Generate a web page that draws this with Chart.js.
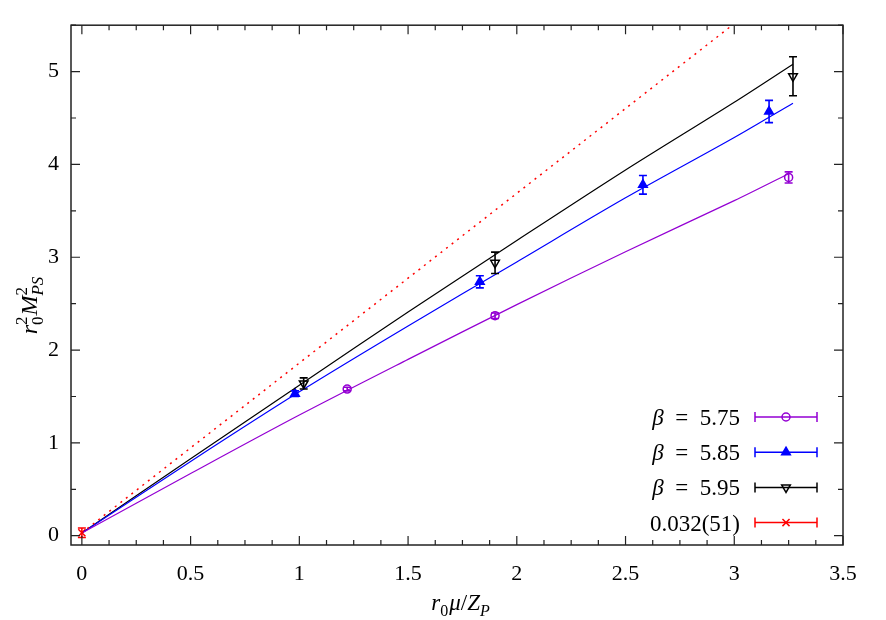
<!DOCTYPE html>
<html>
<head>
<meta charset="utf-8">
<script src="https://cdn.jsdelivr.net/npm/chart.js@4/dist/chart.umd.min.js"></script>
<style>
  html, body { margin: 0; padding: 0; background: #fff; }
  #wrap { width: 886px; height: 620px; }
</style>
</head>
<body>
<div id="wrap"><canvas id="myChart" width="886" height="620"></canvas></div>
<script>
// axis ticks
const xTicks = [0, 0.5, 1, 1.5, 2, 2.5, 3, 3.5];
const yTicks = [0, 1, 2, 3, 4, 5];

// beta = 5.75 data
const x575 = [1.22, 1.90, 3.25];
const y575 = [1.58, 2.37, 3.86];
const e575 = [0.02, 0.03, 0.06];

// beta = 5.85 data
const x585 = [0.98, 1.83, 2.58, 3.16];
const y585 = [1.53, 2.735, 3.78, 4.57];
const e585 = [0.03, 0.065, 0.10, 0.12];

// beta = 5.95 data
const x595 = [1.02, 1.90, 3.27];
const y595 = [1.64, 2.94, 4.95];
const e595 = [0.06, 0.115, 0.21];

// chiral limit point
const xChiral = [0];
const yChiral = [0.032];
const eChiral = [0.051];

// fit curves
const fitX575 = [0, 0.5, 1, 1.5, 2, 2.5, 3, 3.25];
const fitY575 = [0.03, 0.67, 1.30, 1.90, 2.49, 3.06, 3.61, 3.90];
const fitX585 = [0, 0.5, 1, 1.5, 2, 2.5, 3, 3.27];
const fitY585 = [0.03, 0.80, 1.55, 2.26, 2.95, 3.64, 4.29, 4.66];
const fitX595 = [0, 0.5, 1, 1.5, 2, 2.5, 3, 3.27];
const fitY595 = [0.03, 0.83, 1.62, 2.41, 3.18, 3.94, 4.67, 5.08];
const dotX = [0, 3.1];
const dotY = [0.032, 5.70];

const legendLabels = ["5.75", "5.85", "5.95", "0.032(51)"];

const PURPLE = "#9400d3", BLUE = "#0000ff", BLACK = "#000000", RED = "#ff0000";
const SERIF = "'Liberation Serif', 'DejaVu Serif', serif";

const pts = (xs, ys) => xs.map((x, i) => ({ x: x, y: ys[i] }));

const fitLine = (xs, ys, color, dash) => ({
  data: pts(xs, ys),
  showLine: true,
  borderColor: color,
  borderWidth: dash ? 1.5 : 1.2,
  borderDash: dash || [],
  pointRadius: 0,
  fill: false,
  tension: 0.3,
});

const markers = (xs, ys, es, color, style, extra) => Object.assign({
  data: pts(xs, ys),
  errors: es,
  showLine: false,
  pointStyle: style,
  pointRadius: 4,
  borderColor: color,
  backgroundColor: "rgba(0,0,0,0)",
  pointBorderWidth: 1.5,
}, extra || {});

// draw text with italic pieces and stacked sub/superscripts
const drawRich = (ctx, parts, x, y, align, size) => {
  const small = Math.round(size * 0.7);
  const fnt = (it, s) => (it ? "italic " : "") + s + "px " + SERIF;
  let width = 0;
  const widths = parts.map(p => {
    let w;
    if (p.t !== undefined) { ctx.font = fnt(p.it, size); w = ctx.measureText(p.t).width; }
    else {
      ctx.font = fnt(p.subIt, small); const a = p.sub ? ctx.measureText(p.sub).width : 0;
      ctx.font = fnt(false, small); const b = p.sup ? ctx.measureText(p.sup).width : 0;
      w = Math.max(a, b) + 1;
    }
    width += w;
    return w;
  });
  let cx = align === "right" ? x - width : align === "center" ? x - width / 2 : x;
  ctx.textAlign = "left";
  ctx.textBaseline = "alphabetic";
  parts.forEach((p, i) => {
    if (p.t !== undefined) { ctx.font = fnt(p.it, size); ctx.fillText(p.t, cx, y); }
    else {
      if (p.sub) { ctx.font = fnt(p.subIt, small); ctx.fillText(p.sub, cx, y + size * 0.25); }
      if (p.sup) { ctx.font = fnt(false, small); ctx.fillText(p.sup, cx, y - size * 0.42); }
    }
    cx += widths[i];
  });
};

const framePlugin = {
  id: "frame",
  afterDraw(chart) {
    const { ctx, chartArea: a } = chart;
    const xs = chart.scales.x, ys = chart.scales.y;
    ctx.save();
    ctx.strokeStyle = "#222";
    ctx.lineWidth = 1.5;
    ctx.strokeRect(a.left, a.top, a.right - a.left, a.bottom - a.top);
    ctx.lineWidth = 1.2;
    ctx.beginPath();
    const xt = (v, len) => {
      const p = xs.getPixelForValue(v);
      if (p < a.left - 0.5 || p > a.right + 0.5) return;
      ctx.moveTo(p, a.bottom); ctx.lineTo(p, a.bottom - len);
      ctx.moveTo(p, a.top); ctx.lineTo(p, a.top + len);
    };
    const yt = (v, len) => {
      const p = ys.getPixelForValue(v);
      if (p < a.top - 0.5 || p > a.bottom + 0.5) return;
      ctx.moveTo(a.left, p); ctx.lineTo(a.left + len, p);
      ctx.moveTo(a.right, p); ctx.lineTo(a.right - len, p);
    };
    xTicks.forEach((v, i) => {
      xt(v, 9);
      if (i < xTicks.length - 1) {
        const step = (xTicks[i + 1] - v) / 4;
        for (let k = 1; k < 4; k++) xt(v + k * step, 5);
      }
    });
    yTicks.forEach((v, i) => {
      yt(v, 9);
      const next = i < yTicks.length - 1 ? yTicks[i + 1] : v + 1;
      yt((v + next) / 2, 5);
    });
    ctx.stroke();

    // axis titles
    ctx.fillStyle = "#000";
    drawRich(ctx, [
      { t: "r", it: true }, { sub: "0" }, { t: "μ", it: true }, { t: "/" },
      { t: "Z", it: true }, { sub: "P", subIt: true }
    ], 461, 610, "center", 23);
    ctx.save();
    ctx.translate(37, 305);
    ctx.rotate(-Math.PI / 2);
    drawRich(ctx, [
      { t: "r", it: true }, { sub: "0", sup: "2" }, { t: "M", it: true }, { sub: "PS", sup: "2", subIt: true }
    ], 0, 0, "center", 24);
    ctx.restore();

    // key
    const entries = chart.data.datasets.filter(d => d.errors);
    entries.forEach((d, i) => {
      const y = 417 + i * 35.2;
      ctx.fillStyle = "#000";
      const label = legendLabels[i];
      const parts = label.indexOf("(") >= 0 ? [{ t: label }] : [{ t: "β", it: true }, { t: "\u2002=\u2002" + label }];
      drawRich(ctx, parts, 740, y + 8, "right", 23);
      ctx.strokeStyle = d.borderColor;
      ctx.lineWidth = 1.5;
      ctx.beginPath();
      ctx.moveTo(755, y); ctx.lineTo(817, y);
      ctx.moveTo(755, y - 5); ctx.lineTo(755, y + 5);
      ctx.moveTo(817, y - 5); ctx.lineTo(817, y + 5);
      ctx.stroke();
      ctx.fillStyle = d.backgroundColor;
      Chart.helpers.drawPoint(ctx, {
        pointStyle: d.pointStyle, radius: d.pointRadius,
        rotation: d.pointRotation || 0, borderWidth: d.pointBorderWidth
      }, 786, y);
    });
    ctx.restore();
  }
};

const errorBarPlugin = {
  id: "errorBars",
  afterDatasetsDraw(chart) {
    const { ctx } = chart;
    const xs = chart.scales.x, ys = chart.scales.y;
    ctx.save();
    chart.data.datasets.forEach(d => {
      if (!d.errors) return;
      ctx.strokeStyle = d.borderColor;
      ctx.lineWidth = 1.6;
      ctx.beginPath();
      d.data.forEach((p, i) => {
        const px = xs.getPixelForValue(p.x);
        const top = ys.getPixelForValue(p.y + d.errors[i]);
        const bot = ys.getPixelForValue(p.y - d.errors[i]);
        ctx.moveTo(px, top); ctx.lineTo(px, bot);
        ctx.moveTo(px - 4, top); ctx.lineTo(px + 4, top);
        ctx.moveTo(px - 4, bot); ctx.lineTo(px + 4, bot);
      });
      ctx.stroke();
    });
    ctx.restore();
  }
};

new Chart(document.getElementById("myChart"), {
  type: "scatter",
  data: {
    datasets: [
      fitLine(dotX, dotY, RED, [2, 5]),
      fitLine(fitX575, fitY575, PURPLE),
      fitLine(fitX585, fitY585, BLUE),
      fitLine(fitX595, fitY595, BLACK),
      markers(x575, y575, e575, PURPLE, "circle"),
      markers(x585, y585, e585, BLUE, "triangle", { backgroundColor: BLUE, pointRadius: 5 }),
      markers(x595, y595, e595, BLACK, "triangle", { pointRotation: 180, pointRadius: 5 }),
      markers(xChiral, yChiral, eChiral, RED, "crossRot", { pointRadius: 5 }),
    ]
  },
  options: {
    responsive: false,
    animation: false,
    layout: { padding: { top: 22, right: 43, left: 0, bottom: 0 } },
    plugins: { legend: { display: false }, tooltip: { enabled: false } },
    scales: {
      x: {
        type: "linear", min: -0.05, max: 3.5,
        grid: { display: false, drawTicks: false },
        border: { display: false },
        afterBuildTicks: s => { s.ticks = xTicks.map(v => ({ value: v })); },
        afterFit: s => { s.height = 75; },
        ticks: { padding: 16, color: "#000", font: { family: SERIF, size: 22 }, maxRotation: 0,
                 callback: v => String(v) }
      },
      y: {
        type: "linear", min: -0.1, max: 5.5,
        grid: { display: false, drawTicks: false },
        border: { display: false },
        afterBuildTicks: s => { s.ticks = yTicks.map(v => ({ value: v })); },
        afterFit: s => { s.width = 71; },
        ticks: { padding: 12, color: "#000", font: { family: SERIF, size: 22 },
                 callback: v => String(v) }
      }
    }
  },
  plugins: [errorBarPlugin, framePlugin]
});
</script>
</body>
</html>
